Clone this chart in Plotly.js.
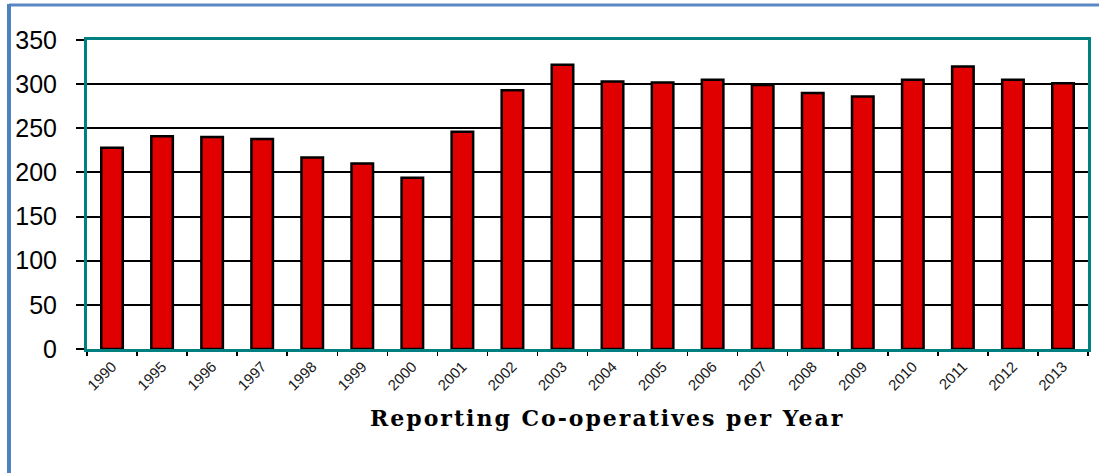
<!DOCTYPE html>
<html>
<head>
<meta charset="utf-8">
<script src="https://cdn.plot.ly/plotly-3.0.1.min.js"></script>
<style>
  html, body { margin: 0; padding: 0; background: #ffffff; }
  #chart { width: 1099px; height: 473px; }
  #chart .annotation-text { letter-spacing: 2px; }
</style>
</head>
<body>
<div id="chart"></div>
<script>
const years = ["1990","1995","1996","1997","1998","1999","2000","2001","2002","2003",
               "2004","2005","2006","2007","2008","2009","2010","2011","2012","2013"];
const coops = [228, 241, 240, 238, 217, 210, 194, 246, 293, 322,
               303, 302, 305, 299, 290, 286, 305, 320, 305, 301];
const yTicks = [0, 50, 100, 150, 200, 250, 300, 350];
const chartTitle = "Reporting Co-operatives per Year";

const W = 1099, H = 473;
const mL = 87, mR = 11, mT = 40, mB = 124;
const plotW = W - mL - mR, plotH = H - mT - mB;
const px2x = p => (p - mL) / plotW;
const px2y = p => (H - mB - p) / plotH;

const trace = {
  type: "bar",
  x: years,
  y: coops,
  marker: { color: "#E00000", line: { color: "#000000", width: 2.5 } },
  hoverinfo: "x+y"
};

const layout = {
  width: W, height: H,
  margin: { l: mL, r: mR, t: mT, b: mB, pad: 0 },
  paper_bgcolor: "#ffffff",
  plot_bgcolor: "#ffffff",
  showlegend: false,
  bargap: 0.57,
  xaxis: {
    type: "category",
    showline: true, linecolor: "#008080", linewidth: 3, mirror: true,
    showgrid: false, zeroline: false,
    ticks: "outside", tickson: "boundaries", ticklen: 4, tickwidth: 1.5, tickcolor: "#000000",
    tickangle: -45,
    tickfont: { family: "Liberation Sans, Arial, sans-serif", size: 15, color: "#1a1a1a" }
  },
  yaxis: {
    range: [0, 350],
    tickvals: yTicks,
    showline: true, linecolor: "#008080", linewidth: 3, mirror: true,
    showgrid: true, gridcolor: "#000000", gridwidth: 2,
    zeroline: false,
    ticks: "outside", ticklen: 8, tickwidth: 2, tickcolor: "#000000",
    ticklabelstandoff: 14,
    tickfont: { family: "Liberation Sans, Arial, sans-serif", size: 25, color: "#000000" }
  },
  annotations: [{
    text: "<b>" + chartTitle + "</b>",
    xref: "paper", yref: "paper",
    x: px2x(607), y: px2y(418),
    xanchor: "center", yanchor: "middle",
    showarrow: false,
    font: { family: "DejaVu Serif, Liberation Serif, serif", size: 22, color: "#000000" }
  }],
  shapes: [
    { type: "line", xref: "paper", yref: "paper",
      x0: px2x(9), x1: px2x(1099), y0: px2y(5), y1: px2y(5),
      line: { color: "#5B87C5", width: 3 } },
    { type: "line", xref: "paper", yref: "paper",
      x0: px2x(9), x1: px2x(9), y0: px2y(4), y1: px2y(473),
      line: { color: "#4F81BD", width: 4 } }
  ]
};

Plotly.newPlot("chart", [trace], layout, { displayModeBar: false, staticPlot: true });
</script>
</body>
</html>
